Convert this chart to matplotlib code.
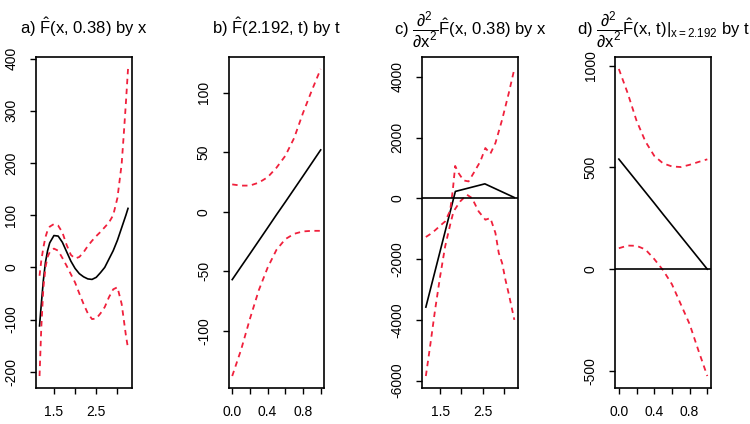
import numpy as np
import matplotlib
matplotlib.use("Agg")
import matplotlib.pyplot as plt

plt.rcParams['font.family'] = ['Liberation Sans', 'DejaVu Sans']
plt.rcParams['mathtext.fontset'] = 'custom'
plt.rcParams['mathtext.rm'] = 'Liberation Sans'
plt.rcParams['mathtext.it'] = 'Liberation Sans'
plt.rcParams['mathtext.sf'] = 'Liberation Sans'

# a) F(x, 0.38) by x
xa = [1.16, 1.2, 1.25, 1.3, 1.35, 1.4, 1.5, 1.6, 1.7, 1.8, 1.9, 2.0, 2.1,
      2.2, 2.3, 2.4, 2.5, 2.6, 2.7, 2.8, 2.9, 3.0, 3.1, 3.15, 3.2, 3.25]
fa = [-112, -72, -25, 10, 32, 47, 61, 60, 48, 30, 12, -2, -12,
      -18, -22, -23, -19, -10, 0, 16, 32, 52, 76, 88, 100, 113]
fa_hi = [-16, 12, 38, 58, 71, 78, 83, 80, 67, 43, 24, 17, 20,
         29, 41, 51, 60, 68, 77, 86, 100, 133, 198, 255, 315, 380]
fa_lo = [-208, -118, -40, 0, 20, 29, 36, 32, 18, 3, -13, -29, -50,
         -70, -88, -99, -98, -88, -76, -57, -42, -38, -70, -100, -130, -155]

# b) F(2.192, t) by t
tb = [0.0, 0.1, 0.2, 0.3, 0.4, 0.5, 0.6, 0.7, 0.8, 0.9, 1.0]
fb = [-57, -46.1, -35.3, -24.4, -13.5, -2.5, 8.2, 19.1, 30, 41, 52]
fb_hi = [23, 22, 22, 24.5, 29, 37, 47, 62, 83, 102, 120]
fb_lo = [-138, -116, -90, -66, -47, -32, -23, -18.5, -16.5, -16, -16]

# c) second derivative in x
xc = [1.165, 1.858, 2.551, 3.244]
fc = [-3580, 230, 480, 30]
xc_hi = [1.165, 1.264, 1.382, 1.5, 1.618, 1.736, 1.8, 1.854, 1.933, 2.05,
         2.169, 2.287, 2.445, 2.563, 2.681, 2.8, 2.957, 3.114, 3.244]
fc_hi = [-1270, -1180, -1050, -900, -758, -400, 300, 1070, 836, 593,
         560, 836, 1219, 1660, 1473, 1825, 2593, 3473, 4264]
xc_lo = [1.165, 1.264, 1.382, 1.5, 1.618, 1.736, 1.815, 1.972, 2.13, 2.248,
         2.405, 2.563, 2.681, 2.8, 2.878, 2.957, 3.035, 3.114, 3.244]
fc_lo = [-5850, -4877, -3667, -2570, -1582, -867, -428, -99, 122, 13,
         -428, -702, -647, -1140, -1800, -2129, -2679, -3150, -4000]

# d) second derivative at x=2.192 by t
td = [0.0, 0.1, 0.2, 0.3, 0.4, 0.5, 0.6, 0.7, 0.8, 0.9, 1.0]
fd = [541, 487, 433, 379, 325, 270, 216, 162, 108, 54, 0]
fd_hi = [984, 865, 730, 628, 557, 520, 505, 502, 513, 527, 540]
fd_lo = [103, 116, 115, 97, 50, -5, -74, -172, -270, -400, -525]

titles = [r"a) $\hat{F}$(x, 0.38) by x",
          r"b) $\hat{F}$(2.192, t) by t",
          r"c) $\dfrac{\partial^2}{\partial x^2}\hat{F}$(x, 0.38) by x",
          r"d) $\dfrac{\partial^2}{\partial x^2}\hat{F}$(x, t)$|_{x{=}2.192}$ by t"]

red = '#f0203c'
dash = (0, (3, 2.5))

fig = plt.figure(figsize=(7.5, 4.24), dpi=100)
lefts = [0.048, 0.3049, 0.5631, 0.8204]
axes = [fig.add_axes([l, 0.0842, 0.1274, 0.7821]) for l in lefts]

def panel(ax, x, y, xh, yh, xl, yl, title, xt, xtl, yt, zero=False):
    ax.plot(x, y, color='black', lw=1.2)
    ax.plot(xh, yh, color=red, lw=1.3, linestyle=dash)
    ax.plot(xl, yl, color=red, lw=1.3, linestyle=dash)
    if zero:
        ax.axhline(0, color='black', lw=1.2)
    ax.margins(0.04)
    ax.set_xticks(xt)
    ax.set_xticklabels(xtl)
    ax.set_yticks(yt)
    ax.set_yticklabels([str(v) for v in yt])
    ax.tick_params(direction='out', length=4.3, width=1, pad=7.5, labelsize=10)
    ax.tick_params(axis='y', labelrotation=90, pad=8.5)
    for lab in ax.get_yticklabels():
        lab.set_va('center')
    for s in ax.spines.values():
        s.set_linewidth(1.2)
    ax.set_title(title, fontsize=12, pad=16)

panel(axes[0], xa, fa, xa, fa_hi, xa, fa_lo, titles[0],
      [1.5, 2.0, 2.5, 3.0], ["1.5", "", "2.5", ""], [-200, -100, 0, 100, 200, 300, 400])
panel(axes[1], tb, fb, tb, fb_hi, tb, fb_lo, titles[1],
      [0, 0.2, 0.4, 0.6, 0.8, 1.0], ["0.0", "", "0.4", "", "0.8", ""], [-100, -50, 0, 50, 100])
panel(axes[2], xc, fc, xc_hi, fc_hi, xc_lo, fc_lo, titles[2],
      [1.5, 2.0, 2.5, 3.0], ["1.5", "", "2.5", ""], [-6000, -4000, -2000, 0, 2000, 4000], zero=True)
panel(axes[3], td, fd, td, fd_hi, td, fd_lo, titles[3],
      [0, 0.2, 0.4, 0.6, 0.8, 1.0], ["0.0", "", "0.4", "", "0.8", ""], [-500, 0, 500, 1000], zero=True)

plt.savefig("out.png", dpi=100)
plt.close()
